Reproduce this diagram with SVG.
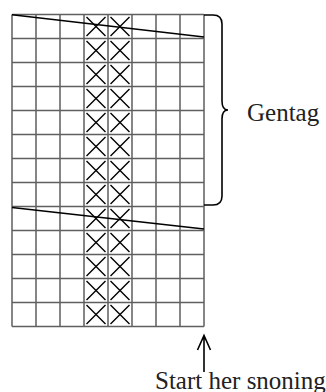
<svg xmlns="http://www.w3.org/2000/svg" width="326" height="392" viewBox="0 0 326 392">
<defs>
<style>
.grid{stroke:#5f5f5f;stroke-width:1.5;fill:none}
.x{stroke:#000;stroke-width:1.4;fill:none}
.ln{stroke:#000;stroke-width:1.6;fill:none}
.lbl{font-family:"Liberation Serif","Times New Roman",serif;font-size:25px;fill:#222}
</style>
<g id="xcell"><path class="x" d="M86.5,17 L105.5,36 M105.5,17 L86.5,36"/><path class="x" d="M110.5,17 L129.5,36 M129.5,17 L110.5,36"/></g>
</defs>
<rect width="326" height="392" fill="#fff"/>
<g id="grid">
<path class="grid" d="M12,14.5 V326.5 M36,14.5 V326.5 M60,14.5 V326.5 M84,14.5 V326.5 M108,14.5 V326.5 M132,14.5 V326.5 M156,14.5 V326.5 M180,14.5 V326.5 M204,14.5 V326.5"/>
<path class="grid" d="M12,14.5 H204 M12,38.5 H204 M12,62.5 H204 M12,86.5 H204 M12,110.5 H204 M12,134.5 H204 M12,158.5 H204 M12,182.5 H204 M12,206.5 H204 M12,230.5 H204 M12,254.5 H204 M12,278.5 H204 M12,302.5 H204 M12,326.5 H204"/>
</g>
<g id="crosses">
<use href="#xcell" y="0"/><use href="#xcell" y="24"/><use href="#xcell" y="48"/><use href="#xcell" y="72"/><use href="#xcell" y="96"/><use href="#xcell" y="120"/><use href="#xcell" y="144"/><use href="#xcell" y="168"/><use href="#xcell" y="192"/><use href="#xcell" y="216"/><use href="#xcell" y="240"/><use href="#xcell" y="264"/><use href="#xcell" y="288"/>
</g>
<g id="connectors">
<path class="ln" d="M12,14.7 L204,37"/>
<path class="ln" d="M12,207.5 L204,229"/>
<path class="ln" d="M204,15 H213 Q222,15 222,24 V101 Q222,110 228,110 Q222,110 222,119 V196 Q222,205 213,205 H204"/>
<path class="ln" d="M204,336 V372 M197.5,350 L204,335.5 L210.5,350"/>
</g>
<g id="labels">
<text class="lbl" x="247" y="121">Gentag</text>
<text class="lbl" x="155" y="389">Start her snoning</text>
</g>
</svg>
